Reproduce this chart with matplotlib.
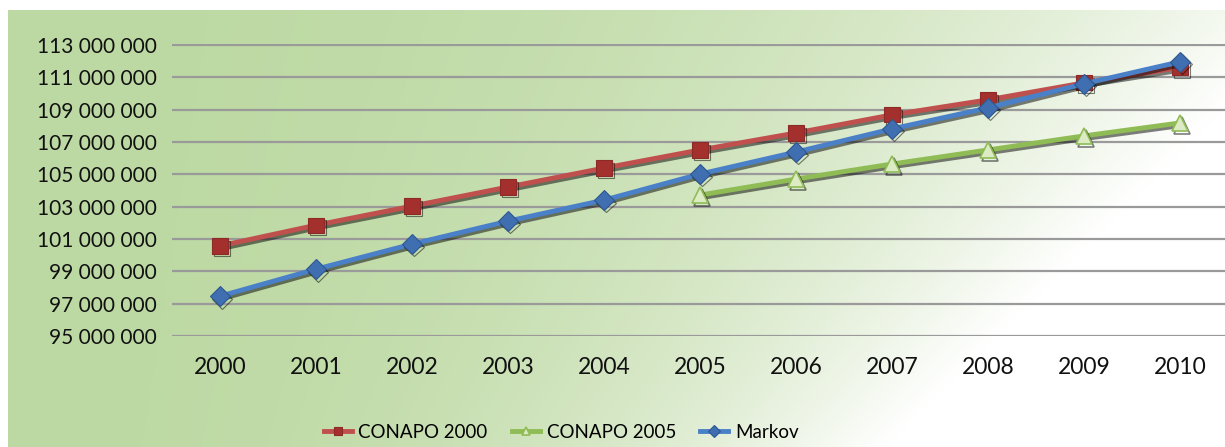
import numpy as np
import matplotlib

matplotlib.use("Agg")
import matplotlib.pyplot as plt  # noqa: E402
import matplotlib.patheffects as pe  # noqa: E402
from matplotlib.ticker import FuncFormatter  # noqa: E402

years = ["2000", "2001", "2002", "2003", "2004", "2005",
         "2006", "2007", "2008", "2009", "2010"]
conapo_2000 = [100.57, 101.85, 103.03, 104.21, 105.38, 106.50,
               107.55, 108.67, 109.60, 110.65, 111.60]
conapo_2005 = [None, None, None, None, None, 103.71,
               104.70, 105.63, 106.50, 107.37, 108.17]
markov = [97.46, 99.13, 100.68, 102.10, 103.40, 105.01,
          106.37, 107.80, 109.10, 110.59, 111.95]
y_ticks = list(range(95, 114, 2))

plt.rcParams["font.family"] = ["Lato", "DejaVu Sans"]

fig = plt.figure(figsize=(12.25, 4.47), dpi=100)

# green-to-white background panel
bg = fig.add_axes([8 / 1225, 0, 1 - 8 / 1225, 1 - 10 / 447])
bg.set_axis_off()
u, v = np.meshgrid(np.linspace(0, 1, 400), np.linspace(0, 1, 150))
t = np.clip(u / (1.08 - 0.36 * v), 0, 1) ** 2.4
left = np.array([189, 217, 163]) / 255
img = left[None, None, :] + (1 - left[None, None, :]) * t[..., None]
bg.imshow(img, aspect="auto", extent=(0, 1, 0, 1), origin="upper")
bg.set_xlim(0, 1)
bg.set_ylim(0, 1)

ax = fig.add_axes([172 / 1225, 111 / 447, 1 - 172 / 1225, 292 / 447])
ax.patch.set_alpha(0)
for s in ax.spines.values():
    s.set_visible(False)

x = np.arange(len(years))
shadow = [pe.SimpleLineShadow(offset=(1.5, -1.8), shadow_color="k", alpha=0.5), pe.Normal()]

ax.plot(x, [v * 1e6 for v in conapo_2000], color="#c0504d", lw=3.5,
        marker="s", ms=11, mfc="#a3302d", mec="#8c2a27", mew=0.8,
        label="CONAPO 2000", path_effects=shadow, zorder=3)
g = np.array([np.nan if v is None else v * 1e6 for v in conapo_2005])
ax.plot(x, g, color="#8fbc55", lw=3.5,
        marker="^", ms=12, mfc="#dcebc4", mec="#8fbc55", mew=1.2,
        label="CONAPO 2005", path_effects=shadow, zorder=3)
ax.plot(x, [v * 1e6 for v in markov], color="#4a80c8", lw=3.5,
        marker="D", ms=10, mfc="#3f6fb0", mec="#2f5790", mew=0.8,
        label="Markov", path_effects=shadow, zorder=4)

ax.set_xlim(-0.5, 10.47)
ax.set_ylim(95e6, 113.05e6)
ax.set_yticks([v * 1e6 for v in y_ticks])
ax.yaxis.set_major_formatter(
    FuncFormatter(lambda val, _: f"{int(round(val)):,}".replace(",", " ")))
ax.set_xticks(x)
ax.set_xticklabels(years)
ax.tick_params(axis="both", length=0, colors="#111111")
ax.tick_params(axis="y", pad=11, labelsize=15)
ax.tick_params(axis="x", pad=15, labelsize=16.5)
ax.grid(axis="y", color="#9a9a9a", lw=1.6)
ax.set_axisbelow(True)

leg = fig.legend(loc="center", bbox_to_anchor=(0.458, 1 - 432 / 447), ncol=3,
                 frameon=False, fontsize=13.5, handlelength=1.5,
                 columnspacing=1.3, handletextpad=0.35)
for h in leg.legend_handles:
    h.set_markersize(6)
    h.set_path_effects([])

fig.savefig("out.png", dpi=100)
plt.close(fig)
